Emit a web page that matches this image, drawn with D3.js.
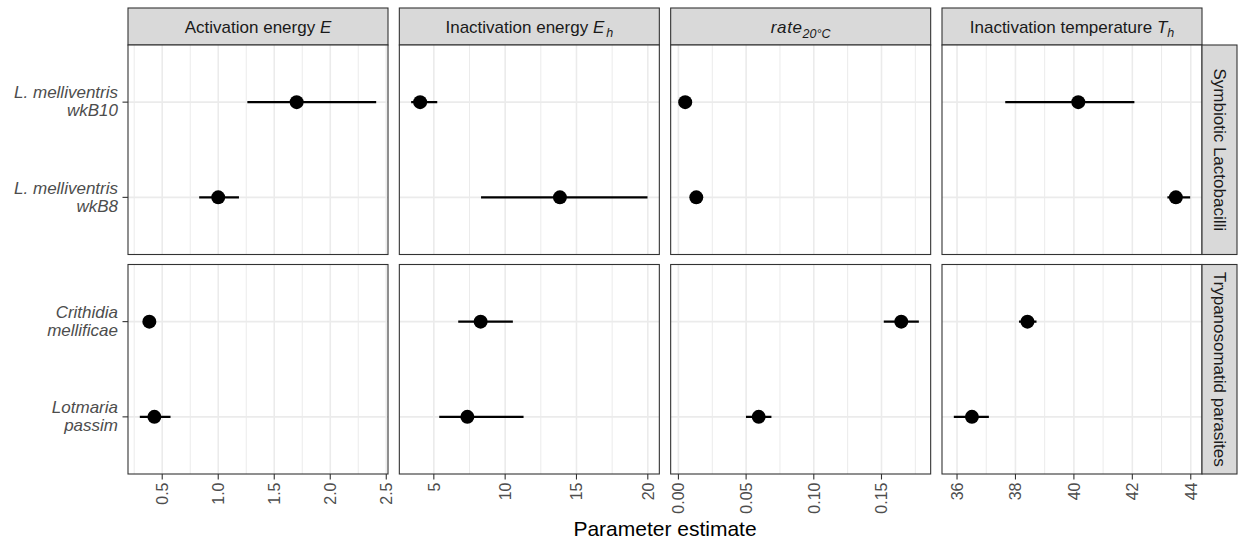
<!DOCTYPE html>
<html>
<head>
<meta charset="utf-8">
<script src="https://cdn.jsdelivr.net/npm/d3@7"></script>
<style>
  html, body { margin: 0; padding: 0; background: #fff; }
  svg { display: block; font-family: "Liberation Sans", Arial, sans-serif; }
</style>
</head>
<body>
<svg id="chart" width="1239" height="542"></svg>
<script>
// Species (rows) and the facet group each belongs to
const species = ["L. melliventris\nwkB10", "L. melliventris\nwkB8", "Crithidia\nmellificae", "Lotmaria\npassim"];
const speciesGroup = ["Symbiotic Lactobacilli", "Symbiotic Lactobacilli", "Trypanosomatid parasites", "Trypanosomatid parasites"];
const groups = ["Symbiotic Lactobacilli", "Trypanosomatid parasites"];

// Parameters (columns)
const params = ["E", "Eh", "rate", "Th"];

// Estimates with lower / upper interval bounds, in species order
const estE    = [1.70, 1.00, 0.385, 0.43];
const lowE    = [1.26, 0.83, 0.37, 0.30];
const highE   = [2.41, 1.185, 0.40, 0.574];

const estEh   = [4.04, 13.84, 8.28, 7.35];
const lowEh   = [3.41, 8.31, 6.71, 5.38];
const highEh  = [5.24, 19.98, 10.54, 11.29];

const estRate  = [0.005, 0.0132, 0.1646, 0.0593];
const lowRate  = [0.0030, 0.0110, 0.1517, 0.0499];
const highRate = [0.0075, 0.0155, 0.1776, 0.0687];

const estTh   = [40.15, 43.49, 38.41, 36.51];
const lowTh   = [37.65, 43.20, 38.12, 35.89];
const highTh  = [42.07, 43.98, 38.72, 37.09];

// Tick values for each parameter's x axis
const ticksE    = [0.5, 1.0, 1.5, 2.0, 2.5];
const ticksEh   = [5, 10, 15, 20];
const ticksRate = [0.00, 0.05, 0.10, 0.15];
const ticksTh   = [36, 38, 40, 42, 44];
const tickFormats = [".1f", "d", ".2f", "d"];

const estimates = [estE, estEh, estRate, estTh];
const lows  = [lowE, lowEh, lowRate, lowTh];
const highs = [highE, highEh, highRate, highTh];
const tickSets = [ticksE, ticksEh, ticksRate, ticksTh];

// ---- layout ----
const svg = d3.select("#chart");
const left = 128, right = 1202, gapX = 11.33;
const panelW = (right - left - gapX * (params.length - 1)) / params.length;
const stripTop = 8, stripH = 37;
const rowTop = [45, 264.5], rowH = 209.5;
const rightStripW = 35;

const GRID = "#EBEBEB", BORDER = "#333333", STRIP = "#D9D9D9", TXT = "#4D4D4D";

// Strip labels built from plain and italic / subscript pieces
function stripLabel(text, key) {
  text.attr("font-size", 17).attr("fill", "#1A1A1A");
  if (key === "E") {
    text.append("tspan").text("Activation energy ");
    text.append("tspan").attr("font-style", "italic").text("E");
  } else if (key === "Eh") {
    text.append("tspan").text("Inactivation energy ");
    text.append("tspan").attr("font-style", "italic").text("E");
    text.append("tspan").attr("font-style", "italic").attr("font-size", 12.5).attr("dy", 4).attr("dx", 2).text("h");
  } else if (key === "rate") {
    text.append("tspan").attr("font-style", "italic").attr("letter-spacing", 0.6).text("rate");
    text.append("tspan").attr("font-style", "italic").attr("font-size", 12.5).attr("dy", 5).text("20\u00B0C");
  } else {
    text.append("tspan").text("Inactivation temperature ");
    text.append("tspan").attr("font-style", "italic").text("T");
    text.append("tspan").attr("font-style", "italic").attr("font-size", 12.5).attr("dy", 4).text("h");
  }
}

const defs = svg.append("defs");

params.forEach((key, pi) => {
  const x0 = left + pi * (panelW + gapX);
  const est = estimates[pi], lo = lows[pi], hi = highs[pi];
  const mn = d3.min(lo), mx = d3.max(hi), pad = (mx - mn) * 0.05;
  const x = d3.scaleLinear().domain([mn - pad, mx + pad]).range([x0, x0 + panelW]);
  const ticks = tickSets[pi];
  const step = ticks[1] - ticks[0];
  const minor = d3.range(ticks[0] - step / 2, ticks[ticks.length - 1] + step, step)
    .filter(v => v > x.domain()[0] && v < x.domain()[1]);

  // top strip
  svg.append("rect").attr("x", x0).attr("y", stripTop).attr("width", panelW).attr("height", stripH)
    .attr("fill", STRIP).attr("stroke", BORDER).attr("stroke-width", 1.1);
  svg.append("text").attr("x", x0 + panelW / 2).attr("y", stripTop + stripH / 2 + 6)
    .attr("text-anchor", "middle").call(stripLabel, key);

  groups.forEach((g, gi) => {
    const y0 = rowTop[gi];
    const rows = species.map((s, i) => i).filter(i => speciesGroup[i] === g);
    // discrete rows with 0.6 expansion; first listed species on top
    const yScale = d3.scaleLinear().domain([0.4, rows.length + 0.6]).range([y0 + rowH, y0]);
    const ypos = i => yScale(rows.length - rows.indexOf(i));

    const clipId = `clip-${pi}-${gi}`;
    defs.append("clipPath").attr("id", clipId).append("rect")
      .attr("x", x0).attr("y", y0).attr("width", panelW).attr("height", rowH);
    const p = svg.append("g").attr("clip-path", `url(#${clipId})`);

    p.append("rect").attr("x", x0).attr("y", y0).attr("width", panelW).attr("height", rowH).attr("fill", "#fff");
    p.selectAll(".minor").data(minor).join("line")
      .attr("x1", d => x(d)).attr("x2", d => x(d)).attr("y1", y0).attr("y2", y0 + rowH)
      .attr("stroke", GRID).attr("stroke-width", 1);
    p.selectAll(".major").data(ticks).join("line")
      .attr("x1", d => x(d)).attr("x2", d => x(d)).attr("y1", y0).attr("y2", y0 + rowH)
      .attr("stroke", GRID).attr("stroke-width", 1.6);
    p.selectAll(".hgrid").data(rows).join("line")
      .attr("x1", x0).attr("x2", x0 + panelW).attr("y1", ypos).attr("y2", ypos)
      .attr("stroke", GRID).attr("stroke-width", 1.6);

    // interval bars and estimates
    p.selectAll(".bar").data(rows).join("line")
      .attr("x1", i => x(lo[i])).attr("x2", i => x(hi[i]))
      .attr("y1", ypos).attr("y2", ypos)
      .attr("stroke", "#000").attr("stroke-width", 2.2);
    p.selectAll(".pt").data(rows).join("circle")
      .attr("cx", i => x(est[i])).attr("cy", ypos).attr("r", 7)
      .attr("fill", "#000");

    svg.append("rect").attr("x", x0).attr("y", y0).attr("width", panelW).attr("height", rowH)
      .attr("fill", "none").attr("stroke", BORDER).attr("stroke-width", 1.1);

    // y axis on the first column
    if (pi === 0) {
      rows.forEach(i => {
        const yy = ypos(i);
        svg.append("line").attr("x1", x0 - 5.5).attr("x2", x0).attr("y1", yy).attr("y2", yy)
          .attr("stroke", BORDER).attr("stroke-width", 1.1);
        const lines = species[i].split("\n");
        const t = svg.append("text").attr("text-anchor", "end").attr("font-style", "italic")
          .attr("font-size", 17).attr("fill", TXT);
        lines.forEach((ln, li) => {
          t.append("tspan").attr("x", 118).attr("y", yy - 3.7 + li * 18).text(ln);
        });
      });
    }

    // right strip on the last column
    if (pi === params.length - 1) {
      svg.append("rect").attr("x", x0 + panelW).attr("y", y0).attr("width", rightStripW).attr("height", rowH)
        .attr("fill", STRIP).attr("stroke", BORDER).attr("stroke-width", 1.1);
      svg.append("text")
        .attr("transform", `translate(${x0 + panelW + rightStripW / 2},${y0 + rowH / 2}) rotate(90)`)
        .attr("text-anchor", "middle").attr("dy", "0.35em")
        .attr("font-size", 17).attr("fill", "#1A1A1A").text(g);
    }
  });

  // x axis under the bottom row
  const yb = rowTop[1] + rowH;
  const axis = svg.append("g");
  const fmt = d3.format(tickFormats[pi]);
  ticks.forEach(v => {
    axis.append("line").attr("x1", x(v)).attr("x2", x(v)).attr("y1", yb).attr("y2", yb + 5.5)
      .attr("stroke", BORDER).attr("stroke-width", 1.1);
    axis.append("text")
      .attr("transform", `translate(${x(v)},${yb + 8.5}) rotate(-90)`)
      .attr("text-anchor", "end").attr("dy", "0.36em")
      .attr("font-size", 16).attr("fill", TXT).text(fmt(v));
  });
});

svg.append("text").attr("x", (left + right) / 2).attr("y", 536)
  .attr("text-anchor", "middle").attr("font-size", 21).attr("fill", "#000").text("Parameter estimate");
</script>
</body>
</html>
